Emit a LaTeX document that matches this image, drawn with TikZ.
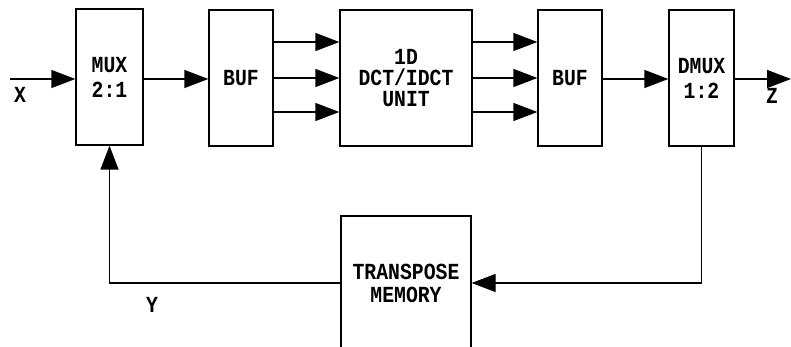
\documentclass[tikz,border=0pt]{standalone}
\usepackage{fontspec}
\newfontfamily\blkfont[FakeStretch=0.86]{Liberation Mono}
\usetikzlibrary{arrows.meta}

\begin{document}
\begin{tikzpicture}[x=1pt, y=1pt, line width=1.3pt,
    blk/.style={draw, line width=1.3pt, minimum height=136pt, inner sep=0pt, align=center,
        font=\blkfont\bfseries\fontsize{23}{25}\selectfont},
    lbl/.style={font=\blkfont\bfseries\fontsize{23}{25}\selectfont},
    arr/.style={-{Triangle[length=24pt, width=18pt]}}]
    \useasboundingbox (0,0) rectangle (791,347);
    \clip (0,0) rectangle (791,347);

    % blocks
    \node[blk, minimum width=67pt] (mux) at (109.5,270) {MUX\\2:1};
    \node[blk, minimum width=64pt] (buf1) at (241,269) {BUF};
    \node[blk, minimum width=132pt, font=\blkfont\bfseries\fontsize{23}{21}\selectfont] (dct) at (406,269) {1D\\DCT/IDCT\\UNIT};
    \node[blk, minimum width=64pt] (buf2) at (570,269) {BUF};
    \node[blk, minimum width=65pt] (dmux) at (701.5,269) {DMUX\\1:2};
    \node[blk, minimum width=130pt, minimum height=134pt, font=\blkfont\bfseries\fontsize{23}{23}\selectfont] (tmem) at (406,64) {TRANSPOSE\\MEMORY};

    \coordinate (xin) at (10,268);
    \coordinate (zout) at (791,268);
    \coordinate (fbr) at (dmux.south |- tmem.east);
    \coordinate (fbl) at (mux.south |- tmem.west);

    % main path
    \draw[arr] (xin) -- (xin -| mux.west);
    \draw[arr] (mux.east |- xin) -- (buf1.west |- xin);
    \foreach \dy in {36,0,-34} {
        \draw[arr] ([yshift=\dy]buf1.east) -- ([yshift=\dy]dct.west);
        \draw[arr] ([yshift=\dy]dct.east) -- ([yshift=\dy]buf2.west);
    }
    \draw[arr] (buf2.east |- xin) -- (dmux.west |- xin);
    \draw[arr] (dmux.east |- xin) -- (zout);

    % feedback
    \draw[arr] (dmux.south) -- (fbr) -- (tmem.east);
    \draw[arr] (tmem.west) -- (fbl) -- (mux.south);

    \node[lbl] (xl) at (20,252) {X};
    \node[lbl] (zl) at (772,251) {Z};
    \node[lbl] (yl) at (152,42) {Y};
\end{tikzpicture}
\end{document}
